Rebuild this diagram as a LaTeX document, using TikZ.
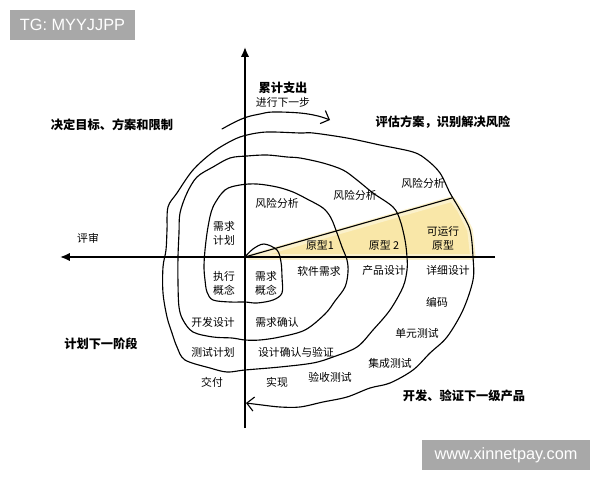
\documentclass[tikz,border=0pt]{standalone}
\usepackage{fontspec}
\setmainfont{Noto Sans CJK SC}
\newfontfamily\markfont{Liberation Sans}
\usetikzlibrary{arrows.meta}
\tikzset{>={Latex[length=7pt,width=6pt]}}
\definecolor{protoyellow}{RGB}{249,231,168}
\definecolor{markgrey}{RGB}{168,168,168}
\tikzset{
	lbl/.style={font=\fontsize{7.7}{10}\selectfont, align=center, inner sep=0pt},
	ttl/.style={font=\fontsize{8.7}{10}\bfseries\selectfont, inner sep=0pt},
	wmark/.style={fill=markgrey, text=white, font=\markfont\fontsize{11.6}{13}\selectfont, minimum height=0.75cm, inner sep=0pt},
	curve/.style={line width=0.8pt, line join=round, line cap=round},
	barb/.style={-{Straight Barb[length=5pt,width=10pt]}}
}

\begin{document}
\begin{tikzpicture}[x=0.025cm, y=-0.025cm]
		\useasboundingbox (0,0) rectangle (600,480);

		% prototypes
		\draw[protoyellow!60, fill=protoyellow, line width=4pt, line join=round]
			(250,257) -- (452,199) -- (460,210) -- (470,230) -- (473,257) -- cycle;

		% axes
		\coordinate (o) at (245,257);
		\coordinate (y_top) at (245,47);
		\coordinate (y_bot) at (245,428);
		\coordinate (x_left) at (60,257);
		\coordinate (x_right) at (495,257);
		\coordinate (proto_end) at (452,198);
		\draw[->, line width=1.3pt] (y_bot) -- (y_top);
		\draw[->, line width=1.3pt] (x_right) -- (x_left);
		\draw[curve] (o) -- (proto_end);

		% spiral
		\draw[curve, barb] plot[smooth, tension=0.55] coordinates {
			(245,257) (253,249) (264,244) (277,250) (281,262) (282,277) (282,293) (273,300)
			(257,303) (245,302) (230,302) (213,300) (207,292) (205,280) (204,267) (205,250)
			(208,227) (213,207) (225,190) (240,185) (257,184) (277,187) (293,192) (307,199)
			(323,208) (331,218) (337,233) (342,247) (347,260) (348,272) (345,287) (335,301)
			(325,314) (305,330) (280,337) (260,340) (245,340) (232,338) (213,337) (193,332)
			(183,320) (179,307) (178,283) (178,257) (179,233) (180,213) (187,193) (197,177)
			(213,167) (230,158) (247,156) (267,155) (287,157) (300,158) (323,163) (343,170)
			(357,180) (373,193) (393,207) (400,220) (405,240) (407,257) (407,270) (403,287)
			(390,310) (373,330) (357,347) (333,357) (313,363) (280,367) (245,370) (227,372)
			(210,368) (185,360) (177,347) (172,333) (167,317) (163,293) (163,267) (166,250)
			(167,230) (168,207) (177,193) (193,170) (213,152) (233,140) (247,135) (267,132)
			(300,133) (313,133) (347,138) (380,145) (413,152) (427,160) (440,173) (450,193)
			(460,210) (470,230) (473,257) (473,280) (463,310) (447,337) (430,353) (413,370)
			(390,383) (370,388) (347,397) (323,402) (300,407) (280,407) (262,405) (246,403)};

		% next step
		\draw[curve, barb] plot[smooth, tension=0.6] coordinates {
			(222,129) (235,122) (247,117) (260,114) (273,112) (300,113) (318,116) (330,120)};

		% quadrant titles
		\node[ttl] (cost) at (283,88) {累计支出};
		\node[lbl] (next) at (283,102) {进行下一步};
		\node[ttl] (goals) at (112,125) {决定目标、方案和限制};
		\node[ttl] (risk) at (443,122) {评估方案，识别解决风险};
		\node[lbl] (review) at (88,238) {评审};
		\node[ttl] (plan) at (101,344) {计划下一阶段};
		\node[ttl] (develop) at (464,396) {开发、验证下一级产品};

		% inside the spiral
		\node[lbl] (risk_1) at (277,203) {风险分析};
		\node[lbl] (risk_2) at (355,195) {风险分析};
		\node[lbl] (risk_3) at (423,183) {风险分析};
		\node[lbl] (req_plan) at (224,233) {需求\\计划};
		\node[lbl] (proto_1) at (320,245) {原型1};
		\node[lbl] (proto_2) at (384,245) {原型 2};
		\node[lbl] (proto_op) at (443,238) {可运行\\原型};
		\node[lbl] (exec_con) at (224,283) {执行\\概念};
		\node[lbl] (req_con) at (266,283) {需求\\概念};
		\node[lbl] (sw_req) at (319,271) {软件需求};
		\node[lbl] (prod_des) at (384,270) {产品设计};
		\node[lbl] (det_des) at (448,270) {详细设计};
		\node[lbl] (coding) at (437,302) {编码};
		\node[lbl] (unit_test) at (417,333) {单元测试};
		\node[lbl] (int_test) at (390,363) {集成测试};
		\node[lbl] (acc_test) at (330,377) {验收测试};
		\node[lbl] (impl) at (277,382) {实现};
		\node[lbl] (deliver) at (212,382) {交付};
		\node[lbl] (test_plan) at (213,352) {测试计划};
		\node[lbl] (des_val) at (296,352) {设计确认与验证};
		\node[lbl] (dev_plan) at (213,322) {开发设计};
		\node[lbl] (req_val) at (277,322) {需求确认};

		% watermarks
		\node[wmark, minimum width=3.125cm] (tg_mark) at (72.5,25) {TG: MYYJJPP};
		\node[wmark, minimum width=4.2cm] (site_mark) at (506,455) {www.xinnetpay.com};
	\end{tikzpicture}
\end{document}
